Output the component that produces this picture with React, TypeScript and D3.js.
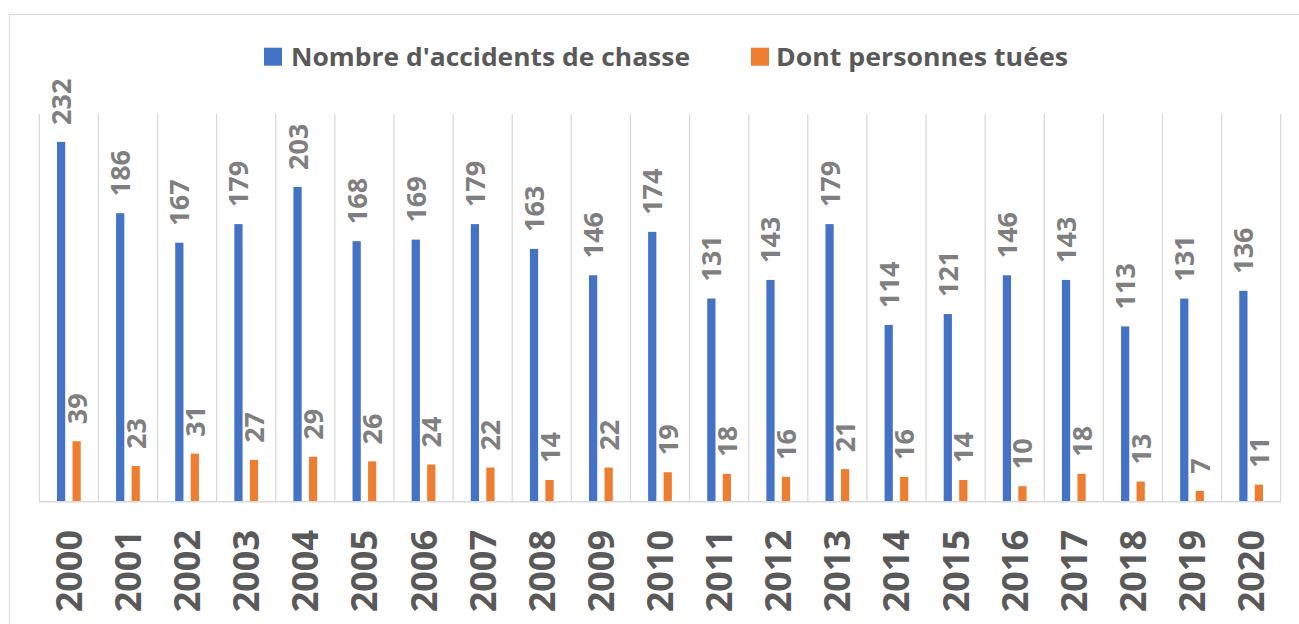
import React from "react";
import { scaleBand, scaleLinear } from "d3";

const years = ["2000", "2001", "2002", "2003", "2004", "2005", "2006", "2007", "2008", "2009", "2010",
  "2011", "2012", "2013", "2014", "2015", "2016", "2017", "2018", "2019", "2020"];
const accidents = [232, 186, 167, 179, 203, 168, 169, 179, 163, 146, 174, 131, 143, 179, 114, 121, 146, 143, 113, 131, 136];
const tues = [39, 23, 31, 27, 29, 26, 24, 22, 14, 22, 19, 18, 16, 21, 16, 14, 10, 18, 13, 7, 11];
const seriesNames = ["Nombre d'accidents de chasse", "Dont personnes tuées"];
const colors = ["#4472C4", "#ED7D31"];

const W = 1299;
const H = 624;
const font = "'Open Sans', 'Liberation Sans', sans-serif";

const App = () => {
  const x = scaleBand().domain(years).range([39.3, 1280.7]).paddingInner(0).paddingOuter(0);
  const sub = scaleBand().domain(["0", "1"]).range([0, x.bandwidth()]).paddingInner(0.47).paddingOuter(1.14);
  const y = scaleLinear().domain([0, 250]).range([501.7, 114]);
  const series = [accidents, tues];
  const bounds = years.map((d) => x(d)!).concat([x.range()[1]]);

  return (
    <svg width={W} height={H} style={{ position: "absolute", left: 0, top: 0, background: "#fff" }}>
      {/* chart frame */}
      <rect x={9.5} y={14.5} width={W + 20} height={H + 20} fill="#fff" stroke="#d9d9d9" />

      {/* legend */}
      <rect x={264} y={47.7} width={18} height={18} fill={colors[0]} />
      <text x={291} y={65.7} fontFamily={font} fontWeight="bold" fontSize={25} fill="#595959"
        textLength={399} lengthAdjust="spacingAndGlyphs">{seriesNames[0]}</text>
      <rect x={751} y={47.7} width={18} height={18} fill={colors[1]} />
      <text x={776} y={65.7} fontFamily={font} fontWeight="bold" fontSize={25} fill="#595959"
        textLength={292} lengthAdjust="spacingAndGlyphs">{seriesNames[1]}</text>

      {/* vertical gridlines */}
      {bounds.map((b, i) => (
        <line key={i} x1={b} x2={b} y1={y(250)} y2={y(0)} stroke="#d9d9d9" strokeWidth={1.3} />
      ))}

      {/* bars */}
      {series.map((vals, s) =>
        vals.map((v, i) => (
          <rect key={`${s}-${i}`} x={x(years[i])! + sub(String(s))!} y={y(v)}
            width={sub.bandwidth()} height={y(0) - y(v)} fill={colors[s]} />
        ))
      )}

      {/* baseline */}
      <line x1={x.range()[0]} x2={x.range()[1]} y1={y(0)} y2={y(0)} stroke="#d9d9d9" strokeWidth={1.5} />

      {/* data labels */}
      {series.map((vals, s) =>
        vals.map((v, i) => {
          const cx = x(years[i])! + sub(String(s))! + sub.bandwidth() / 2;
          const cy = y(v) - 17;
          return (
            <text key={`l${s}-${i}`} transform={`translate(${cx + 10},${cy}) rotate(-90)`}
              fontFamily={font} fontWeight="bold" fontSize={27} fill="#7f7f7f" textAnchor="start">
              {v}
            </text>
          );
        })
      )}

      {/* year labels */}
      {years.map((yr) => {
        const cx = x(yr)! + x.bandwidth() / 2;
        return (
          <text key={yr} transform={`translate(${cx + 13},530) rotate(-90)`}
            fontFamily={font} fontWeight="bold" fontSize={36} fill="#595959" textAnchor="end">
            {yr}
          </text>
        );
      })}
    </svg>
  );
};

export default App;
